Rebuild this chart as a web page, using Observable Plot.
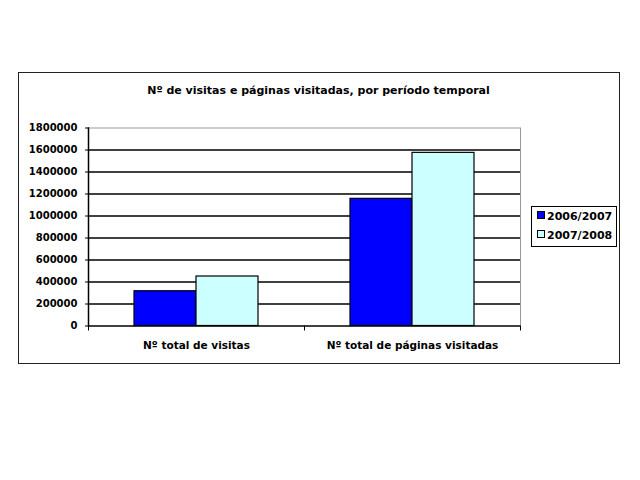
<!DOCTYPE html>
<html>
<head>
<meta charset="utf-8">
<script src="https://cdn.jsdelivr.net/npm/d3@7"></script>
<script src="https://cdn.jsdelivr.net/npm/@observablehq/plot@0.6"></script>
<style>
  body { margin: 0; background: #fff; }
  #wrap { position: relative; width: 640px; height: 480px; overflow: hidden; font-family: "DejaVu Sans", sans-serif; }
  #box { position: absolute; left: 18px; top: 72px; width: 600px; height: 290px; border: 1.5px solid #222; }
  #title { position: absolute; left: 0; width: 637px; top: 84px; text-align: center; font-weight: bold; font-size: 11px; color: #000; }
  #chart { position: absolute; left: 0; top: 0; }
  #legend { position: absolute; left: 531px; top: 206px; width: 84px; height: 39px; border: 1px solid #000; background: #fff; }
  .item { position: absolute; left: 5px; height: 14px; font-size: 11px; font-weight: bold; line-height: 14px; white-space: nowrap; }
  .sw { display: inline-block; width: 6px; height: 6px; border: 1px solid #000; margin-right: 2px; vertical-align: 1px; }
</style>
</head>
<body>
<div id="wrap">
  <div id="box"></div>
  <div id="chart"></div>
  <div id="title"></div>
  <div id="legend"></div>
</div>
<script>
const titleText = "Nº de visitas e páginas visitadas, por período temporal";
const categories = ["Nº total de visitas", "Nº total de páginas visitadas"];
const periods = ["2006/2007", "2007/2008"];
const values20062007 = [316000, 1156000];
const values20072008 = [450000, 1574000];
const yTicks = [0, 200000, 400000, 600000, 800000, 1000000, 1200000, 1400000, 1600000, 1800000];
const colors = ["#0000FF", "#CCFFFF"];

const data = categories.flatMap((c, i) => [
  {category: c, period: periods[0], value: values20062007[i]},
  {category: c, period: periods[1], value: values20072008[i]}
]);

const chart = Plot.plot({
  width: 640,
  height: 480,
  marginLeft: 88,
  marginRight: 120,
  marginTop: 127.5,
  marginBottom: 154.5,
  style: {fontFamily: "DejaVu Sans", background: "transparent", color: "#000"},
  fx: {domain: categories, padding: 0},
  x: {domain: periods, paddingInner: 0, paddingOuter: 0.73, axis: null},
  y: {domain: [0, 1800000]},
  color: {domain: periods, range: colors},
  marks: [
    Plot.ruleY(yTicks.slice(0, -1), {stroke: "#000", strokeWidth: 1.5}),
    Plot.ruleY(yTicks.slice(-1), {stroke: "#999", strokeWidth: 1}),
    Plot.barY(data, {fx: "category", x: "period", y: "value", fill: "period", stroke: "#000", strokeWidth: 1.2}),
    Plot.frame({anchor: "right", stroke: "#999", facet: "super"}),
    Plot.frame({anchor: "left", stroke: "#000", strokeWidth: 1.5, facet: "super"}),
    Plot.frame({anchor: "left", stroke: "#000", insetTop: 198, insetBottom: -4}),
    Plot.frame({anchor: "right", stroke: "#000", insetTop: 198, insetBottom: -4, facet: "super"}),
    Plot.axisY({ticks: yTicks, tickFormat: d => String(d), tickSize: 3, tickPadding: 8, label: null, fontSize: 10, fontWeight: "bold"}),
    Plot.axisFx({anchor: "bottom", tickSize: 0, tickPadding: 16, label: null, fontSize: 10.5, fontWeight: "bold"})
  ]
});
document.getElementById("chart").appendChild(chart);
document.getElementById("title").textContent = titleText;

const legend = document.getElementById("legend");
periods.forEach((p, i) => {
  const item = document.createElement("div");
  item.className = "item";
  item.style.top = (3 + i * 19) + "px";
  const sw = document.createElement("span");
  sw.className = "sw";
  sw.style.background = colors[i];
  item.appendChild(sw);
  item.appendChild(document.createTextNode(p));
  legend.appendChild(item);
});
</script>
</body>
</html>
